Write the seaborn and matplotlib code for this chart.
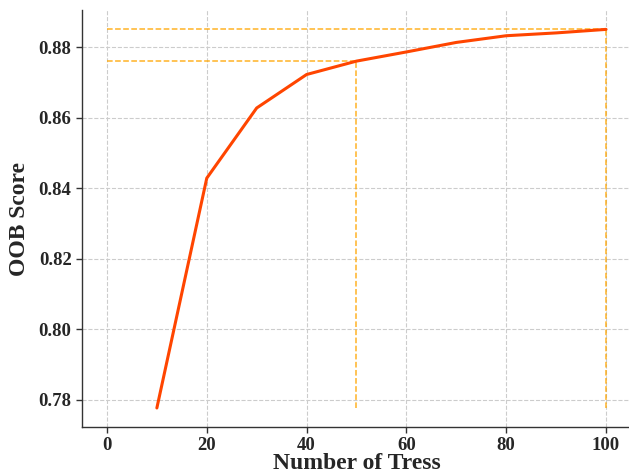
import matplotlib
matplotlib.use("Agg")
import matplotlib.pyplot as plt
import seaborn as sns
import pandas as pd

# Out-of-bag score as the forest grows
n_trees = [10, 20, 30, 40, 50, 60, 70, 80, 90, 100]
oob_scores = [0.7776, 0.8428, 0.8627, 0.8722, 0.8760, 0.8786, 0.8813, 0.8832, 0.8840, 0.8850]

# Reference points highlighted with guide lines
marked_trees = [50, 100]
x_ticks = [0, 20, 40, 60, 80, 100]
y_ticks = [0.78, 0.80, 0.82, 0.84, 0.86, 0.88]

sns.set_theme(style="white")
plt.rcParams["font.family"] = ["Liberation Serif", "DejaVu Serif"]
plt.rcParams["font.weight"] = "bold"

df = pd.DataFrame({"trees": n_trees, "oob": oob_scores})

fig = plt.figure(figsize=(6.29, 4.75), dpi=100)
ax = fig.add_axes([82 / 629, 1 - 427 / 475, (631 - 82) / 629, (427 - 10) / 475])

sns.lineplot(data=df, x="trees", y="oob", ax=ax, color="#FF4500", linewidth=2.2, zorder=3)

ymin = min(oob_scores)
for t in marked_trees:
    v = oob_scores[n_trees.index(t)]
    ax.plot([0, t], [v, v], linestyle="--", color="orange", alpha=0.85, linewidth=1.1, zorder=2)
    ax.plot([t, t], [ymin, v], linestyle="--", color="orange", alpha=0.85, linewidth=1.1, zorder=2)

ax.set_xlim(-5, 105)
ax.set_ylim(0.7722, 0.8905)
ax.set_xticks(x_ticks)
ax.set_yticks(y_ticks)
ax.set_yticklabels([f"{v:.2f}" for v in y_ticks])

ax.grid(True, linestyle="--", color="#cccccc", linewidth=0.8)
ax.set_axisbelow(True)

for side in ("top", "right"):
    ax.spines[side].set_visible(False)
for side in ("left", "bottom"):
    ax.spines[side].set_color("#333333")
    ax.spines[side].set_linewidth(1.0)

ax.tick_params(axis="both", which="both", direction="out", length=4, width=1,
               color="#333333", labelsize=13.5, left=True, bottom=True)
for lbl in ax.get_xticklabels() + ax.get_yticklabels():
    lbl.set_fontweight("bold")

ax.set_xlabel("Number of Tress", fontsize=17, fontweight="bold", labelpad=-1)
ax.set_ylabel("OOB Score", fontsize=17, fontweight="bold", labelpad=6)

fig.savefig("out.png", dpi=100)
